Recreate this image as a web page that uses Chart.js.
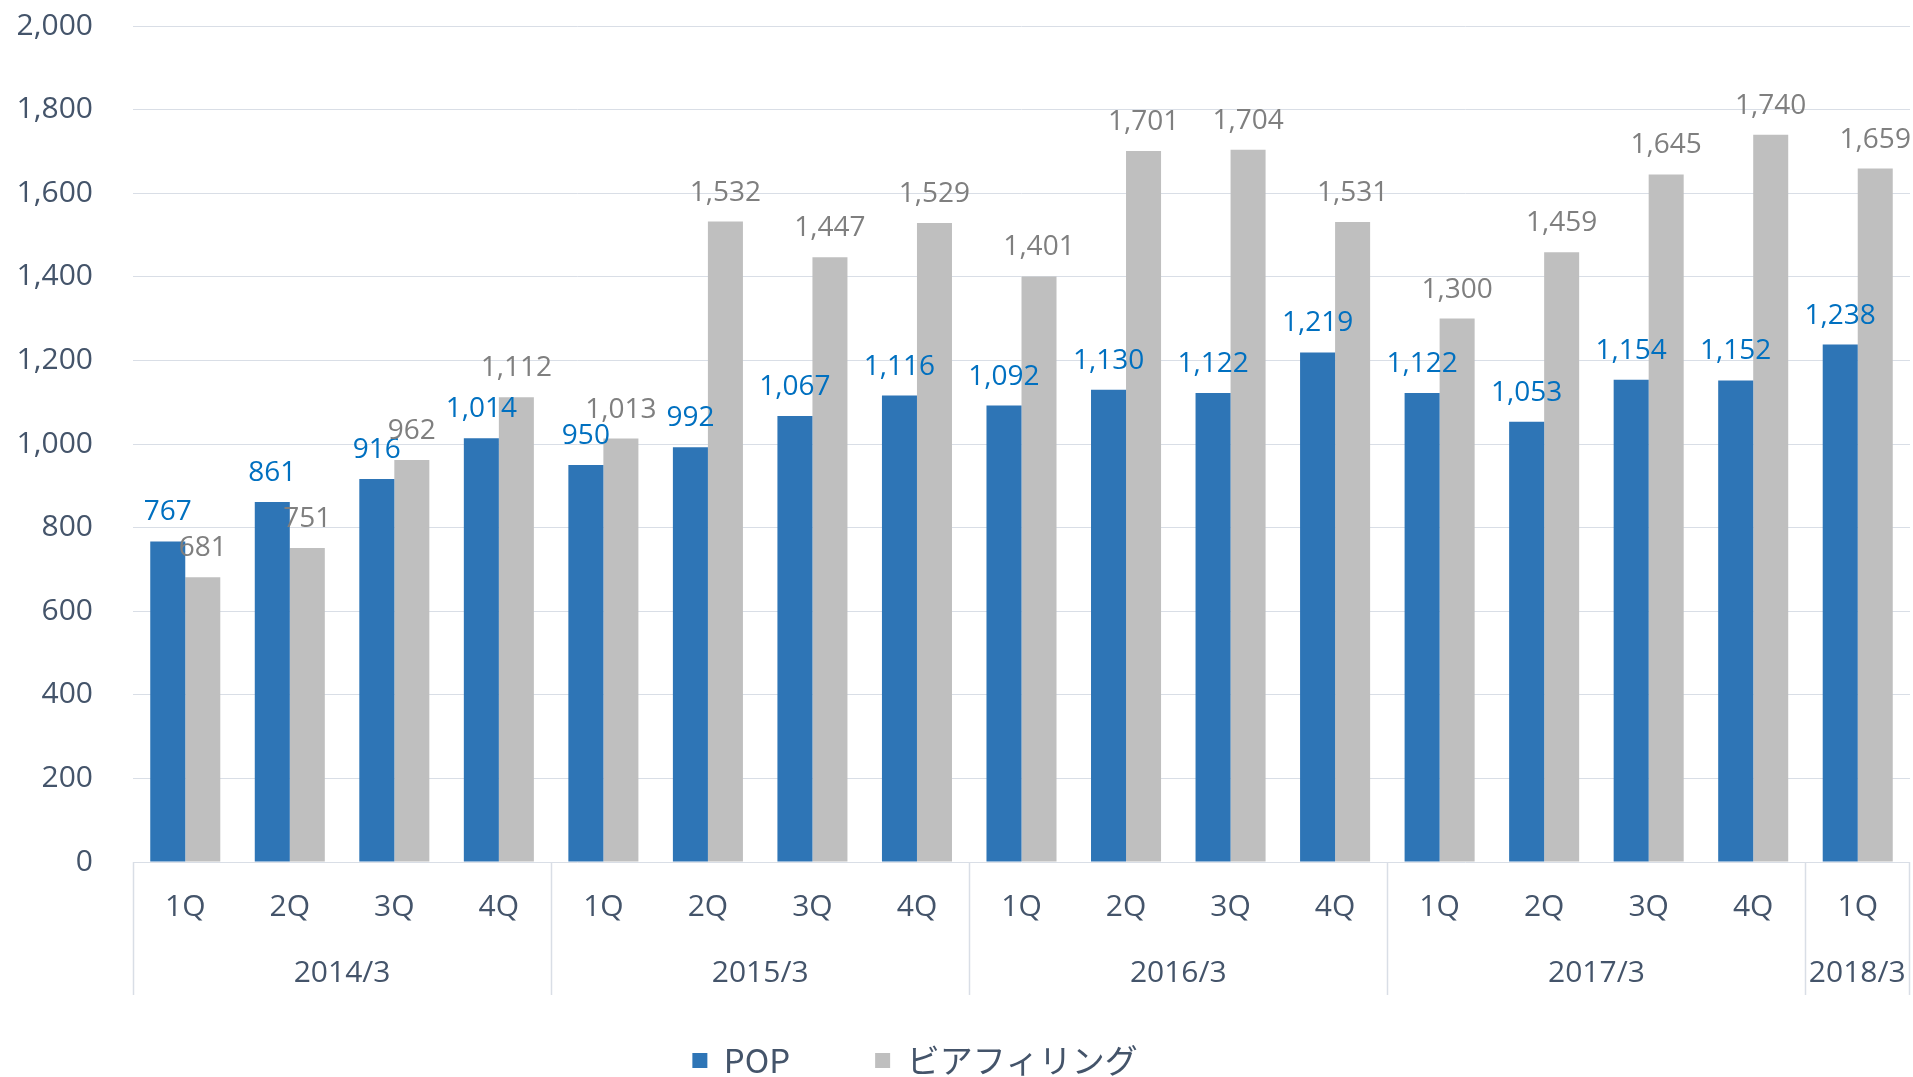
<!DOCTYPE html>
<html>
<head>
<meta charset="utf-8">
<script src="https://cdn.jsdelivr.net/npm/chart.js@4/dist/chart.umd.min.js"></script>
<style>
  html, body { margin: 0; padding: 0; background: #ffffff; }
  #wrap { position: absolute; left: 0; top: 0; width: 1913px; height: 1077px; }
</style>
</head>
<body>
<div id="wrap"><canvas id="quarterChart"></canvas></div>
<script>
// Data block
const quarters = ['1Q', '2Q', '3Q', '4Q', '1Q', '2Q', '3Q', '4Q', '1Q', '2Q', '3Q', '4Q', '1Q', '2Q', '3Q', '4Q', '1Q'];
const fiscalYears = ['2014/3', '2015/3', '2016/3', '2017/3', '2018/3'];
const quartersPerYear = [4, 4, 4, 4, 1];
const popValues = [767, 861, 916, 1014, 950, 992, 1067, 1116, 1092, 1130, 1122, 1219, 1122, 1053, 1154, 1152, 1238];
const beerValues = [681, 751, 962, 1112, 1013, 1532, 1447, 1529, 1401, 1701, 1704, 1531, 1300, 1459, 1645, 1740, 1659];

const textColor = '#44546a';
const gridColor = '#d9dee6';
const baseFont = "'Open Sans', 'Noto Sans', sans-serif";

// Value labels above bars
const barValueLabels = {
    id: 'barValueLabels',
    afterDatasetsDraw(chart) {
        const ctx = chart.ctx;
        const labelColors = ['#0070c0', '#7f7f7f'];
        ctx.save();
        ctx.font = '28px ' + baseFont;
        ctx.textAlign = 'center';
        ctx.textBaseline = 'alphabetic';
        chart.data.datasets.forEach((ds, di) => {
            ctx.fillStyle = labelColors[di];
            chart.getDatasetMeta(di).data.forEach((bar, i) => {
                ctx.fillText(ds.data[i].toLocaleString('en-US'), bar.x, bar.y - 21);
            });
        });
        ctx.restore();
    }
};

// Fiscal year row and group dividers under the quarter labels
const fiscalYearAxis = {
    id: 'fiscalYearAxis',
    afterDraw(chart) {
        const ctx = chart.ctx;
        const x = chart.scales.x;
        const area = chart.chartArea;
        const step = x.getPixelForValue(1) - x.getPixelForValue(0);
        ctx.save();
        ctx.strokeStyle = gridColor;
        ctx.lineWidth = 1.5;
        ctx.fillStyle = textColor;
        ctx.font = '30px ' + baseFont;
        ctx.textAlign = 'center';
        ctx.textBaseline = 'middle';
        let start = 0;
        const edges = [area.left];
        fiscalYears.forEach((year, g) => {
            const end = start + quartersPerYear[g];
            const left = x.getPixelForValue(start) - step / 2;
            const right = Math.min(x.getPixelForValue(end - 1) + step / 2, area.right - 1);
            edges.push(right);
            ctx.fillText(year, (left + right) / 2, 973);
            start = end;
        });
        edges.forEach(px => {
            ctx.beginPath();
            ctx.moveTo(Math.round(px) + 0.5, area.bottom);
            ctx.lineTo(Math.round(px) + 0.5, 995);
            ctx.stroke();
        });
        ctx.restore();
    }
};

// Legend size / position block
const legendPlacement = {
    id: 'legendPlacement',
    beforeInit(chart) {
        const fitValue = chart.legend.fit;
        chart.legend.fit = function fit() {
            fitValue.bind(chart.legend)();
            this.height = 118;
        };
    },
    afterLayout(chart) {
        chart.legend.left -= 40;
        chart.legend.right -= 40;
    }
};

const quarterConfig = {
    type: 'bar',
    data: {
        labels: quarters,
        datasets: [{
            label: 'POP',
            data: popValues,
            backgroundColor: '#2e75b6',
            categoryPercentage: 0.67,
            barPercentage: 1.0
        }, {
            label: 'ビアフィリング',
            data: beerValues,
            backgroundColor: '#bfbfbf',
            categoryPercentage: 0.67,
            barPercentage: 1.0
        }]
    },
    options: {
        responsive: true,
        maintainAspectRatio: false,
        animation: false,
        locale: 'en-US',
        layout: { padding: { top: 26, right: 3, bottom: 0, left: 0 } },
        plugins: {
            legend: {
                position: 'bottom',
                onClick: null,
                labels: {
                    boxWidth: 15,
                    boxHeight: 15,
                    padding: 85,
                    color: textColor,
                    font: { family: "'Noto Sans CJK JP', sans-serif", size: 33 }
                }
            },
            tooltip: { enabled: false }
        },
        scales: {
            x: {
                grid: { display: false, drawTicks: false },
                border: { display: false },
                ticks: {
                    color: textColor,
                    padding: 27,
                    font: { family: baseFont, size: 30 },
                    maxRotation: 0,
                    autoSkip: false
                },
                afterFit: scale => { scale.height = 97; }
            },
            y: {
                min: 0,
                max: 2000,
                // invisible tick marks keep the labels off the plot without padding the top
                grid: { color: gridColor, lineWidth: 1, drawTicks: true, tickLength: 32, tickColor: 'rgba(0,0,0,0)' },
                border: { display: false },
                ticks: {
                    stepSize: 200,
                    color: textColor,
                    padding: 8,
                    font: { family: baseFont, size: 30 }
                },
                afterFit: scale => { scale.width = 133; }
            }
        }
    },
    plugins: [barValueLabels, fiscalYearAxis, legendPlacement]
};

const quarterChart = new Chart(
    document.getElementById('quarterChart'),
    quarterConfig
);
</script>
</body>
</html>
